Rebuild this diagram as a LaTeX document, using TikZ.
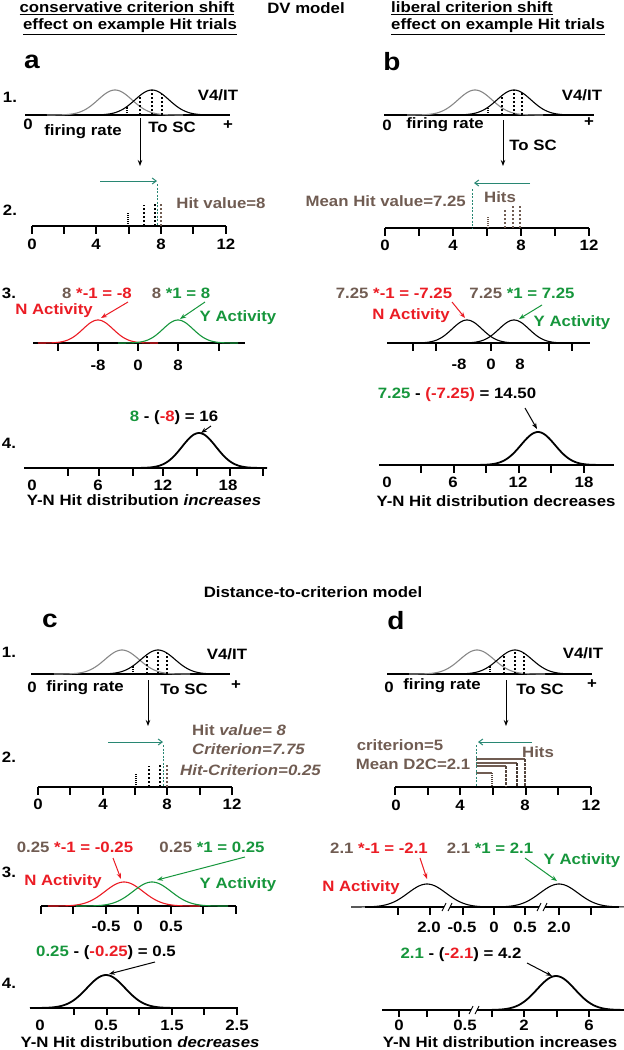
\documentclass[tikz,border=0pt]{standalone}
\usepackage{fontspec}
\setmainfont{Liberation Sans}[FakeStretch=1.12]
\usetikzlibrary{arrows.meta}
\definecolor{brn}{RGB}{112,92,82}
\definecolor{rd}{RGB}{235,28,36}
\definecolor{gr}{RGB}{22,150,60}
\definecolor{tl}{RGB}{40,135,115}
\definecolor{gy}{RGB}{135,135,135}
\newcommand\fs{\fontsize{15}{17}\selectfont}
\newcommand\gaus[5]{%
 \pgfmathsetmacro\gsA{#1-4*#2}\pgfmathsetmacro\gsB{#1+4*#2}%
 \draw[#5] plot[domain=\gsA:\gsB, samples=70, smooth] (\x,{#3-#4*exp(-((\x-#1)*(\x-#1))/(2*#2*#2))});}
\newcommand\hitln[6]{%
 \draw[#6] (#1,#4) -- (#1,{#4-#5*exp(-((#1-#2)*(#1-#2))/(2*#3*#3))});}
\tikzset{
 every node/.style={font=\bfseries\fs, inner sep=0pt},
 big/.style={font=\bfseries\fontsize{25}{27}\selectfont},
 axisln/.style={line width=1.5pt},
 tk/.style={line width=1.3pt},
 crv/.style={line width=1.1pt},
 crvb/.style={line width=1.8pt},
 arr/.style={-{Stealth[length=6pt,width=4.5pt]}, line width=1pt},
 tarr/.style={tl, -{Straight Barb[length=4pt,width=6pt]}, line width=1pt},
 dotln/.style={line width=1.5pt, dash pattern=on 1pt off 1pt},
 dshln/.style={line width=1.5pt, dash pattern=on 2.5pt off 1.5pt},
 tdash/.style={tl, line width=1pt, dash pattern=on 2pt off 1.5pt},
}
\begin{document}
\begin{tikzpicture}[x=1pt,y=-1pt]
\useasboundingbox (0,0) rectangle (624,1050);
% ---------------- headers
\node (h1) at (127,8) {\underline{conservative criterion shift}};
\node (h2) at (130,27) {\underline{effect on example Hit trials}};
\node (h3) at (306,8) {DV model};
\node[anchor=west] (h4) at (391,8) {\underline{liberal criterion shift}};
\node[anchor=west] (h5) at (391,27) {\underline{effect on example Hit trials}};
\node[big] (la) at (32,62) {a};
\node[big] (lb) at (392,62) {b};
% ================= PANEL A
\node (a1n) at (10,97) {1.};
\node (a2n) at (10,210) {2.};
\node (a3n) at (9,293) {3.};
\node (a4n) at (9,443) {4.};
% step 1
\draw[axisln] (25,115) -- (230,115);
\gaus{115}{17}{115}{25}{gy,crv}
\gaus{152}{17}{115}{25}{crv}
\hitln{127}{152}{17}{115}{25}{dotln}
\hitln{140}{152}{17}{115}{25}{dshln}
\hitln{152}{152}{17}{115}{25}{dshln}
\hitln{162}{152}{17}{115}{25}{dshln}
\node (a1v) at (218,95) {V4/IT};
\node (a10) at (28,124) {0};
\node (a1f) at (83,132) {firing rate};
\node (a1s) at (172,127) {To SC};
\node (a1p) at (228,125) {+};
\coordinate (a1a) at (140,118);
\coordinate (a1b) at (140,166);
\draw[arr] (a1a) -- (a1b);
% step 2
\draw[axisln] (32,226) -- (226,226);
\foreach \t in {32,64,96,129,161,193,226} \draw[tk] (\t,226) -- (\t,234);
\foreach \t/\l in {32/0,96/4,161/8,226/12} \node at (\t,244) {\l};
\draw[dotln] (128,226) -- (128,213);
\draw[dshln] (144,226) -- (144,205);
\draw[dshln] (155,226) -- (155,202);
\draw[dshln,brn] (161,226) -- (161,202);
\draw[tdash] (157,184) -- (157,226);
\coordinate (a2s) at (100,181);
\coordinate (a2e) at (157,181);
\draw[tarr] (a2s) -- (a2e);
\node[brn] (a2h) at (221,203) {Hit value=8};
% step 3
\draw[axisln] (33,343) -- (245,343);
\foreach \t in {58,98,138,178,219} \draw[tk] (\t,343) -- (\t,351);
\foreach \t/\l in {98/-8,138/0,178/8} \node at (\t,365) {\l};
\gaus{98}{15}{343}{23}{rd,crv}
\gaus{178}{15}{343}{23}{gr,crv}
\node (a3eq1) at (97,293) {\textcolor{brn}{8} \textcolor{rd}{*-1 = -8}};
\node (a3eq2) at (181,293) {\textcolor{brn}{8} \textcolor{gr}{*1 = 8}};
\node[rd] (a3N) at (54,311) {N Activity};
\node[gr] (a3Y) at (238,318) {Y Activity};
\coordinate (a3r1) at (128,302); \coordinate (a3r2) at (101,318);
\coordinate (a3g1) at (205,302); \coordinate (a3g2) at (180,319);
\draw[arr,rd] (a3r1) -- (a3r2);
\draw[arr,gr] (a3g1) -- (a3g2);
% step 4
\draw[axisln] (24,468) -- (263,468);
\foreach \t in {68,99,133,163,197,230,263} \draw[tk] (\t,468) -- (\t,476);
\foreach \t/\l in {32/0,98/6,163/12,228/18} \node at (\t,485) {\l};
\gaus{199}{17}{468}{35}{crvb}
\node (a4eq) at (174,418) {\textcolor{gr}{8} - (\textcolor{rd}{-8}) = 16};
\coordinate (a4s) at (211,426); \coordinate (a4e) at (201,433);
\draw[arr] (a4s) -- (a4e);
\node (a4t) at (144,500) {Y-N Hit distribution \textit{increases}};
% ================= PANEL B
% step 1
\draw[axisln] (384,115) -- (594,115);
\gaus{475}{17}{115}{25}{gy,crv}
\gaus{514}{17}{115}{25}{crv}
\hitln{488}{514}{17}{115}{25}{dotln}
\hitln{502}{514}{17}{115}{25}{dshln}
\hitln{514}{514}{17}{115}{25}{dshln}
\hitln{522}{514}{17}{115}{25}{dshln}
\node (b1v) at (582,95) {V4/IT};
\node (b10) at (387,125) {0};
\node (b1f) at (445,125) {firing rate};
\node (b1p) at (589,122) {+};
\coordinate (b1a) at (503,120);
\coordinate (b1b) at (503,166);
\draw[arr] (b1a) -- (b1b);
\node (b1s) at (533,145) {To SC};
% step 2
\draw[axisln] (385,228) -- (589,228);
\foreach \t in {385,419,453,487,521,555,589} \draw[tk] (\t,228) -- (\t,236);
\foreach \t/\l in {385/0,453/4,521/8,589/12} \node at (\t,245) {\l};
\draw[dotln,brn] (488,228) -- (488,216);
\draw[dshln,brn] (505,228) -- (505,208);
\draw[dshln,brn] (513,228) -- (513,205);
\draw[dshln,brn] (520,228) -- (520,205);
\draw[tdash] (472,189) -- (472,228);
\coordinate (b2s) at (530,183);
\coordinate (b2e) at (474,183);
\draw[tarr] (b2s) -- (b2e);
\node[brn,anchor=east] (b2m) at (466,201) {Mean Hit value=7.25};
\node[brn] (b2h) at (500,197) {Hits};
% step 3
\draw[axisln] (387,343) -- (590,343);
\foreach \t in {413,436,491,549,572} \draw[tk] (\t,343) -- (\t,351);
\foreach \t/\l in {459/-8,491/0,520/8} \node at (\t,364) {\l};
\gaus{467}{15}{343}{23}{crv}
\gaus{514}{15}{343}{23}{crv}
\node (b3eq1) at (394,293) {\textcolor{brn}{7.25} \textcolor{rd}{*-1 = -7.25}};
\node (b3eq2) at (522,293) {\textcolor{brn}{7.25} \textcolor{gr}{*1 = 7.25}};
\node[rd] (b3N) at (411,316) {N Activity};
\node[gr] (b3Y) at (572,323) {Y Activity};
\coordinate (b3r1) at (452,302); \coordinate (b3r2) at (465,318);
\coordinate (b3g1) at (542,305); \coordinate (b3g2) at (519,319);
\draw[arr,rd] (b3r1) -- (b3r2);
\draw[arr,gr] (b3g1) -- (b3g2);
% step 4
\draw[axisln] (379,465) -- (614,465);
\foreach \t in {421,454,486,519,551,584} \draw[tk] (\t,465) -- (\t,473);
\foreach \t/\l in {387/0,453/6,518/12,584/18} \node at (\t,482) {\l};
\gaus{538}{17}{465}{33}{crvb}
\node (b4eq) at (457,395) {\textcolor{gr}{7.25} - \textcolor{rd}{(-7.25)} = 14.50};
\coordinate (b4s) at (525,408); \coordinate (b4e) at (537,429);
\draw[arr] (b4s) -- (b4e);
\node (b4t) at (496,501) {Y-N Hit distribution decreases};
% ================= middle title
\node (mid) at (313,592) {Distance-to-criterion model};
\node[big] (lc) at (50,621) {c};
\node[big] (ld) at (396,621) {d};
% ================= PANEL C
\node (c1n) at (9,652) {1.};
\node (c2n) at (9,757) {2.};
\node (c3n) at (9,872) {3.};
\node (c4n) at (9,983) {4.};
% step 1
\draw[axisln] (31,674) -- (230,674);
\gaus{122}{17}{674}{24}{gy,crv}
\gaus{158}{17}{674}{24}{crv}
\hitln{133}{158}{17}{674}{24}{dotln}
\hitln{147}{158}{17}{674}{24}{dshln}
\hitln{158}{158}{17}{674}{24}{dshln}
\hitln{167}{158}{17}{674}{24}{dshln}
\node (c1v) at (227,654) {V4/IT};
\node (c10) at (32,687) {0};
\node (c1f) at (85,688) {firing rate};
\node (c1s) at (184,689) {To SC};
\node (c1p) at (236,685) {+};
\coordinate (c1a) at (148,680);
\coordinate (c1b) at (148,726);
\draw[arr] (c1a) -- (c1b);
% step 2
\draw[axisln] (38,787) -- (232,787);
\foreach \t in {38,70,103,135,167,200,232} \draw[tk] (\t,787) -- (\t,795);
\foreach \t/\l in {38/0,103/4,167/8,232/12} \node at (\t,804) {\l};
\draw[dotln] (136,787) -- (136,774);
\draw[dshln] (149,787) -- (149,766);
\draw[dshln] (160,787) -- (160,763);
\draw[dshln,brn] (167,787) -- (167,763);
\draw[tdash] (163,745) -- (163,787);
\coordinate (c2s) at (108,742);
\coordinate (c2e) at (163,742);
\draw[tarr] (c2s) -- (c2e);
\node[brn,anchor=west] (c2a) at (192,730) {Hit \textit{value= 8}};
\node[brn,anchor=west] (c2b) at (192,749) {\textit{Criterion=7.75}};
\node[brn,anchor=west] (c2c) at (180,770) {\textit{Hit-Criterion=0.25}};
% step 3
\draw[axisln] (41,906) -- (236,906);
\foreach \t in {41,73,106,138,171,203,236} \draw[tk] (\t,906) -- (\t,914);
\foreach \t/\l in {106/-0.5,138/0,171/0.5} \node at (\t,926) {\l};
\gaus{124}{19}{906}{24}{rd,crv}
\gaus{152}{19}{906}{24}{gr,crv}
\node (c3eq1) at (75,847) {\textcolor{brn}{0.25} \textcolor{rd}{*-1 = -0.25}};
\node (c3eq2) at (212,847) {\textcolor{brn}{0.25} \textcolor{gr}{*1 = 0.25}};
\node[rd] (c3N) at (63,882) {N Activity};
\node[gr] (c3Y) at (238,885) {Y Activity};
\coordinate (c3r1) at (113,858); \coordinate (c3r2) at (121,879);
\coordinate (c3g1) at (245,857); \coordinate (c3g2) at (157,880);
\draw[arr,rd] (c3r1) -- (c3r2);
\draw[arr,gr] (c3g1) -- (c3g2);
% step 4
\draw[axisln] (39,1008) -- (238,1008);
\foreach \t in {74,107,139,172,204,237} \draw[tk] (\t,1008) -- (\t,1015);
\foreach \t/\l in {40/0,106/0.5,172/1.5,237/2.5} \node at (\t,1025) {\l};
\gaus{106}{19}{1008}{33}{crvb}
\node (c4eq) at (106,953) {\textcolor{gr}{0.25} - (\textcolor{rd}{-0.25}) = 0.5};
\coordinate (c4s) at (155,962); \coordinate (c4e) at (109,974);
\draw[arr] (c4s) -- (c4e);
\node (c4t) at (140,1042) {Y-N Hit distribution \textit{decreases}};
% ================= PANEL D
% step 1
\draw[axisln] (387,674) -- (592,674);
\gaus{477}{17}{674}{24}{gy,crv}
\gaus{515}{17}{674}{24}{crv}
\hitln{490}{515}{17}{674}{24}{dotln}
\hitln{504}{515}{17}{674}{24}{dshln}
\hitln{515}{515}{17}{674}{24}{dshln}
\hitln{524}{515}{17}{674}{24}{dshln}
\node (d1v) at (583,653) {V4/IT};
\node (d10) at (389,687) {0};
\node (d1f) at (442,686) {firing rate};
\node (d1s) at (540,689) {To SC};
\node (d1p) at (592,684) {+};
\coordinate (d1a) at (506,680);
\coordinate (d1b) at (506,726);
\draw[arr] (d1a) -- (d1b);
% step 2
\draw[axisln] (395,787) -- (591,787);
\foreach \t in {395,428,460,493,526,558,591} \draw[tk] (\t,787) -- (\t,795);
\foreach \t/\l in {396/0,460/4,525/8,591/12} \node at (\t,805) {\l};
\draw[brn,line width=1.3pt] (476,759) -- (525,759);
\draw[brn,line width=1.3pt] (476,763) -- (517,763);
\draw[brn,line width=1.3pt] (476,766) -- (506,766);
\draw[brn,line width=1.3pt] (476,773) -- (492,773);
\draw[dshln,brn!75!black] (525,759) -- (525,787);
\draw[dshln,brn!60!black] (517,763) -- (517,787);
\draw[dshln,brn!75!black] (506,766) -- (506,787);
\draw[dotln,brn!75!black] (492,773) -- (492,787);
\draw[tdash] (476,745) -- (476,787);
\coordinate (d2s) at (532,742);
\coordinate (d2e) at (478,742);
\draw[tarr] (d2s) -- (d2e);
\node[brn] (d2c) at (400,745) {criterion=5};
\node[brn] (d2m) at (413,764) {Mean D2C=2.1};
\node[brn] (d2h) at (538,752) {Hits};
% step 3
\draw[axisln] (365,907) -- (619,907);
\foreach \t in {398,430,463,494,525,559,591} \draw[tk] (\t,907) -- (\t,915);
\foreach \t/\l in {429/2.0,462/-0.5,494/0,525/0.5,559/2.0} \node at (\t,927) {\l};
\gaus{427}{19}{907}{23}{crv}
\gaus{559}{19}{907}{23}{crv}
\foreach \b in {447,542} {
 \fill[white] (\b-3,903) rectangle (\b+3,911);
 \draw[line width=0.9pt] (\b-5,911) -- (\b-1,903);
 \draw[line width=0.9pt] (\b+1,911) -- (\b+5,903);
}
\node (d3eq1) at (379,848) {\textcolor{brn}{2.1} \textcolor{rd}{*-1 = -2.1}};
\node (d3eq2) at (490,848) {\textcolor{brn}{2.1} \textcolor{gr}{*1 = 2.1}};
\node[gr] (d3Y) at (582,861) {Y Activity};
\node[rd] (d3N) at (361,888) {N Activity};
\coordinate (d3r1) at (420,858); \coordinate (d3r2) at (427,879);
\coordinate (d3g1) at (525,858); \coordinate (d3g2) at (557,881);
\draw[arr,rd] (d3r1) -- (d3r2);
\draw[arr,gr] (d3g1) -- (d3g2);
% step 4
\draw[axisln] (382,1010) -- (619,1010);
\foreach \t in {399,427,459,492,524,557,589} \draw[tk] (\t,1010) -- (\t,1017);
\foreach \t/\l in {399/0,465/0.5,524/2,589/6} \node at (\t,1025) {\l};
\gaus{556}{19}{1010}{34}{crvb}
\fill[white] (471,1006) rectangle (477,1014);
\draw[line width=0.9pt] (469,1014) -- (473,1006);
\draw[line width=0.9pt] (475,1014) -- (479,1006);
\node (d4eq) at (461,955) {\textcolor{gr}{2.1} - (\textcolor{rd}{-2.1}) = 4.2};
\coordinate (d4s) at (527,963); \coordinate (d4e) at (552,976);
\draw[arr] (d4s) -- (d4e);
\node (d4t) at (500,1042) {Y-N Hit distribution increases};
\end{tikzpicture}
\end{document}
